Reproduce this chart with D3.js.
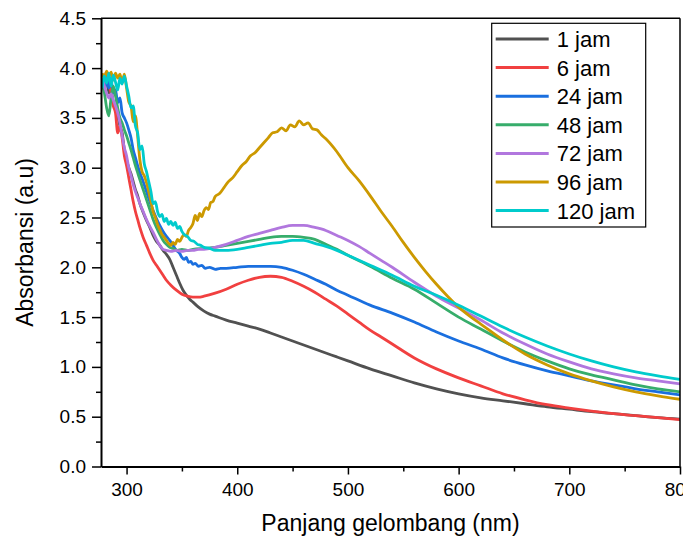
<!DOCTYPE html>
<html>
<head>
<meta charset="utf-8">
<script src="https://cdnjs.cloudflare.com/ajax/libs/d3/7.8.5/d3.min.js"></script>
<style>
  body { margin: 0; background: #fff; }
  text { font-family: "Liberation Sans", Arial, sans-serif; fill: #000; }
</style>
</head>
<body>
<div id="chart"></div>
<script>
// series labels and colours (Origin default palette)
var labels = ["1 jam", "6 jam", "24 jam", "48 jam", "72 jam", "96 jam", "120 jam"];
var colors = ["#515151", "#F14040", "#1A6FDF", "#37AD6B", "#B177DE", "#CC9900", "#00CBCC"];

var xTicks = [300, 400, 500, 600, 700, 800];
var xMinor = [350, 450, 550, 650, 750];
var yTicks = [0, 0.5, 1, 1.5, 2, 2.5, 3, 3.5, 4, 4.5];
var yMinor = [0.25, 0.75, 1.25, 1.75, 2.25, 2.75, 3.25, 3.75, 4.25];

// [wavelength nm, absorbance]
var jam1 = [[278,3.9],[280,3.82],[282,3.88],[284,3.75],[286,3.78],[288,3.65],[290,3.6],[292,3.52],[294,3.42],[296,3.35],[298,3.18],[300,3.08],[302,3.0],[304,2.94],[306,2.86],[308,2.78],[310,2.72],[312,2.64],[315,2.55],[318,2.47],[321,2.4],[324,2.32],[327,2.26],[330,2.22],[333,2.17],[336,2.13],[339,2.08],[342,2.0],[345,1.92],[348,1.84],[351,1.77],[354,1.72],[357,1.68],[360,1.65],[365,1.6],[370,1.56],[375,1.53],[380,1.51],[390,1.47],[400,1.44],[410,1.41],[420,1.38],[430,1.34],[440,1.30],[450,1.26],[460,1.22],[470,1.18],[480,1.14],[490,1.10],[500,1.06],[520,0.98],[540,0.91],[560,0.84],[580,0.78],[600,0.73],[620,0.69],[640,0.66],[660,0.63],[680,0.60],[700,0.575],[720,0.55],[740,0.53],[760,0.51],[780,0.49],[800,0.475]];

var jam6 = [[278,3.85],[280,3.9],[282,3.96],[284,3.85],[286,3.75],[288,3.62],[290,3.55],[292,3.35],[294,3.42],[296,3.3],[298,3.12],[300,3.02],[302,2.9],[304,2.78],[306,2.66],[308,2.56],[310,2.48],[312,2.4],[315,2.3],[318,2.22],[321,2.14],[324,2.07],[327,2.02],[330,1.97],[333,1.92],[336,1.87],[340,1.82],[345,1.77],[350,1.73],[355,1.71],[360,1.70],[365,1.70],[370,1.71],[380,1.74],[390,1.78],[400,1.83],[410,1.87],[420,1.90],[430,1.91],[440,1.90],[450,1.86],[460,1.81],[470,1.75],[480,1.68],[490,1.61],[500,1.53],[510,1.45],[520,1.37],[530,1.30],[540,1.23],[560,1.09],[580,0.98],[600,0.89],[620,0.81],[640,0.73],[660,0.67],[680,0.62],[700,0.585],[720,0.555],[740,0.53],[760,0.51],[780,0.49],[800,0.47]];

var jam24 = [[278,3.85],[280,3.78],[282,3.9],[284,3.8],[286,3.88],[288,3.75],[290,3.78],[292,3.65],[294,3.7],[296,3.55],[298,3.5],[300,3.45],[302,3.38],[304,3.3],[306,3.18],[308,3.1],[310,3.02],[312,2.95],[315,2.86],[318,2.76],[321,2.66],[324,2.57],[327,2.49],[330,2.42],[333,2.36],[336,2.31],[339,2.27],[342,2.22],[345,2.17],[348,2.14],[350,2.1],[352,2.08],[354,2.1],[356,2.05],[358,2.06],[360,2.03],[362,2.04],[365,2.01],[368,2.02],[371,1.99],[375,2.0],[380,1.98],[385,1.99],[390,1.99],[400,2.0],[410,2.01],[420,2.01],[430,2.01],[440,2.0],[450,1.97],[460,1.93],[470,1.88],[480,1.83],[490,1.77],[500,1.72],[520,1.62],[540,1.54],[560,1.45],[580,1.35],[600,1.26],[620,1.18],[640,1.09],[660,1.02],[680,0.96],[700,0.91],[720,0.86],[740,0.82],[760,0.78],[780,0.75],[800,0.72]];

var jam48 = [[278,3.85],[280,3.75],[282,3.6],[284,3.52],[286,3.7],[288,3.82],[290,3.72],[292,3.6],[294,3.5],[296,3.45],[298,3.38],[300,3.32],[302,3.25],[304,3.18],[306,3.1],[308,3.02],[310,2.95],[312,2.88],[315,2.78],[318,2.68],[321,2.58],[324,2.48],[327,2.4],[330,2.33],[333,2.27],[336,2.23],[339,2.2],[342,2.19],[346,2.17],[350,2.18],[355,2.17],[360,2.18],[370,2.19],[380,2.2],[390,2.22],[400,2.24],[410,2.26],[420,2.28],[430,2.3],[440,2.31],[450,2.31],[460,2.3],[470,2.28],[480,2.23],[490,2.18],[500,2.12],[520,2.01],[540,1.89],[560,1.78],[580,1.64],[600,1.50],[620,1.38],[640,1.26],[660,1.15],[680,1.06],[700,0.98],[720,0.92],[740,0.87],[760,0.82],[780,0.78],[800,0.75]];

var jam72 = [[278,3.9],[280,3.82],[282,3.75],[284,3.7],[286,3.74],[288,3.68],[290,3.62],[292,3.55],[294,3.45],[296,3.32],[298,3.2],[300,3.12],[302,3.0],[304,2.92],[306,2.83],[308,2.76],[310,2.7],[312,2.64],[315,2.56],[318,2.48],[321,2.41],[324,2.35],[327,2.28],[330,2.22],[333,2.18],[336,2.17],[340,2.16],[345,2.17],[350,2.16],[355,2.17],[360,2.17],[365,2.18],[370,2.18],[380,2.2],[390,2.23],[400,2.27],[410,2.31],[420,2.34],[430,2.37],[440,2.4],[450,2.42],[460,2.42],[470,2.4],[480,2.37],[490,2.32],[500,2.27],[510,2.21],[520,2.14],[530,2.07],[540,2.0],[560,1.85],[580,1.71],[600,1.59],[620,1.47],[640,1.34],[660,1.23],[680,1.13],[700,1.05],[720,0.98],[740,0.93],[760,0.89],[780,0.86],[800,0.83]];

var jam96 = [[278,3.95],[280,3.9],[282,3.97],[284,3.92],[286,3.96],[288,3.88],[290,3.95],[292,3.9],[294,3.94],[296,3.86],[298,3.94],[300,3.8],[302,3.66],[304,3.62],[306,3.46],[308,3.52],[310,3.32],[312,3.08],[314,2.96],[316,2.92],[318,2.85],[320,2.76],[322,2.66],[324,2.56],[326,2.5],[328,2.43],[330,2.38],[332,2.33],[334,2.3],[336,2.27],[338,2.24],[340,2.22],[342,2.25],[344,2.23],[346,2.28],[348,2.26],[350,2.3],[352,2.33],[354,2.31],[356,2.37],[358,2.4],[360,2.44],[362,2.52],[364,2.47],[366,2.54],[368,2.51],[370,2.57],[372,2.6],[374,2.58],[376,2.65],[378,2.66],[380,2.71],[384,2.74],[388,2.8],[392,2.86],[396,2.9],[400,2.96],[404,3.02],[408,3.06],[412,3.12],[416,3.15],[420,3.2],[424,3.25],[428,3.3],[432,3.35],[436,3.36],[440,3.4],[444,3.37],[448,3.43],[452,3.41],[456,3.47],[460,3.43],[464,3.45],[468,3.39],[472,3.38],[476,3.33],[480,3.29],[490,3.16],[500,3.0],[510,2.87],[520,2.72],[530,2.56],[540,2.41],[550,2.25],[560,2.1],[570,1.96],[580,1.83],[590,1.71],[600,1.6],[610,1.51],[620,1.43],[640,1.27],[660,1.13],[680,1.02],[700,0.93],[720,0.86],[740,0.8],[760,0.75],[780,0.71],[800,0.675]];

var jam120 = [[278,3.8],[280,3.92],[282,3.85],[284,3.95],[286,3.82],[288,3.93],[290,3.86],[292,3.78],[294,3.9],[296,3.84],[298,3.92],[300,3.82],[302,3.72],[304,3.6],[306,3.62],[308,3.42],[310,3.35],[312,3.18],[314,3.22],[316,3.04],[318,2.96],[320,2.86],[322,2.76],[324,2.64],[326,2.66],[328,2.56],[330,2.51],[332,2.53],[334,2.46],[336,2.49],[338,2.43],[340,2.46],[342,2.42],[344,2.45],[346,2.39],[348,2.41],[350,2.36],[352,2.33],[355,2.31],[358,2.27],[361,2.26],[364,2.23],[367,2.22],[370,2.2],[375,2.19],[380,2.17],[390,2.17],[400,2.18],[410,2.2],[420,2.22],[430,2.24],[440,2.25],[450,2.27],[460,2.27],[470,2.24],[480,2.21],[490,2.17],[500,2.12],[510,2.07],[520,2.02],[540,1.92],[560,1.81],[580,1.72],[600,1.62],[620,1.51],[640,1.40],[660,1.30],[680,1.21],[700,1.13],[720,1.06],[740,1.0],[760,0.95],[780,0.91],[800,0.875]];

var series = [jam1, jam6, jam24, jam48, jam72, jam96, jam120];

// plot box
var margin = {top: 18.3, right: 3, bottom: 72.5, left: 101},
    width = 683 - margin.left - margin.right,
    height = 539 - margin.top - margin.bottom;

var svg = d3.select("#chart")
    .append("svg")
    .attr("width", 683)
    .attr("height", 539)
    .append("g")
    .attr("transform", "translate(" + margin.left + "," + margin.top + ")");

var x = d3.scaleLinear()
    .domain([276.9, 800])
    .range([0, width]);

var y = d3.scaleLinear()
    .domain([0, 4.5])
    .range([height, 0]);

svg.append("clipPath")
    .attr("id", "clip")
    .append("rect")
    .attr("width", width)
    .attr("height", height);

// curves
var line = d3.line()
    .curve(d3.curveMonotoneX)
    .x(function(d) { return x(d[0]) })
    .y(function(d) { return y(d[1]) });

svg.append("g")
    .attr("clip-path", "url(#clip)")
    .selectAll("path")
    .data(series)
    .enter()
    .append("path")
    .attr("fill", "none")
    .attr("stroke", function(d, i) { return colors[i] })
    .attr("stroke-width", 2.8)
    .attr("stroke-linejoin", "round")
    .attr("d", line);

// frame top / right
svg.append("line")
    .attr("x1", 0).attr("x2", width).attr("y1", 0).attr("y2", 0)
    .attr("stroke", "#000").attr("stroke-width", 1.5);
svg.append("line")
    .attr("x1", width).attr("x2", width).attr("y1", 0).attr("y2", height)
    .attr("stroke", "#000").attr("stroke-width", 1.5);

// X axis
svg.append("g")
    .attr("transform", "translate(0," + height + ")")
    .call(d3.axisBottom(x).tickValues(xTicks).tickSize(8).tickPadding(8).tickSizeOuter(0));
svg.append("g")
    .attr("transform", "translate(0," + height + ")")
    .call(d3.axisBottom(x).tickValues(xMinor).tickSize(5).tickFormat("").tickSizeOuter(0))
    .select(".domain").remove();

// Y axis
svg.append("g")
    .call(d3.axisLeft(y).tickValues(yTicks).tickSize(9).tickPadding(6).tickFormat(d3.format(".1f")).tickSizeOuter(0));
svg.append("g")
    .call(d3.axisLeft(y).tickValues(yMinor).tickSize(5).tickFormat("").tickSizeOuter(0))
    .select(".domain").remove();

svg.selectAll(".domain").attr("stroke-width", 2);
svg.selectAll(".tick line").attr("stroke-width", 1.5);
svg.selectAll(".tick text")
    .style("font-size", "19px")
    .style("font-family", "'Liberation Sans', Arial, sans-serif");

// axis titles
svg.append("text")
    .attr("x", width / 2)
    .attr("y", height + 65)
    .style("text-anchor", "middle")
    .style("font-size", "23px")
    .text("Panjang gelombang (nm)");

svg.append("text")
    .attr("transform", "rotate(-90)")
    .attr("x", -height / 2)
    .attr("y", -margin.left + 33)
    .style("text-anchor", "middle")
    .style("font-size", "23px")
    .text("Absorbansi (a.u)");

// legend
var legend = svg.append("g")
    .attr("transform", "translate(" + (491.7 - margin.left) + "," + (23.3 - margin.top) + ")");

legend.append("rect")
    .attr("width", 154)
    .attr("height", 203.7)
    .attr("fill", "#fff")
    .attr("stroke", "#000")
    .attr("stroke-width", 1.2);

var rows = legend.selectAll("g.row")
    .data(labels)
    .enter()
    .append("g")
    .attr("class", "row")
    .attr("transform", function(d, i) { return "translate(0," + (15.7 + i * 28.6) + ")" });

rows.append("line")
    .attr("x1", 4).attr("x2", 57)
    .attr("stroke", function(d, i) { return colors[i] })
    .attr("stroke-width", 3);

rows.append("text")
    .attr("x", 65)
    .attr("dy", "0.36em")
    .style("font-size", "22px")
    .text(function(d) { return d });
</script>
</body>
</html>
